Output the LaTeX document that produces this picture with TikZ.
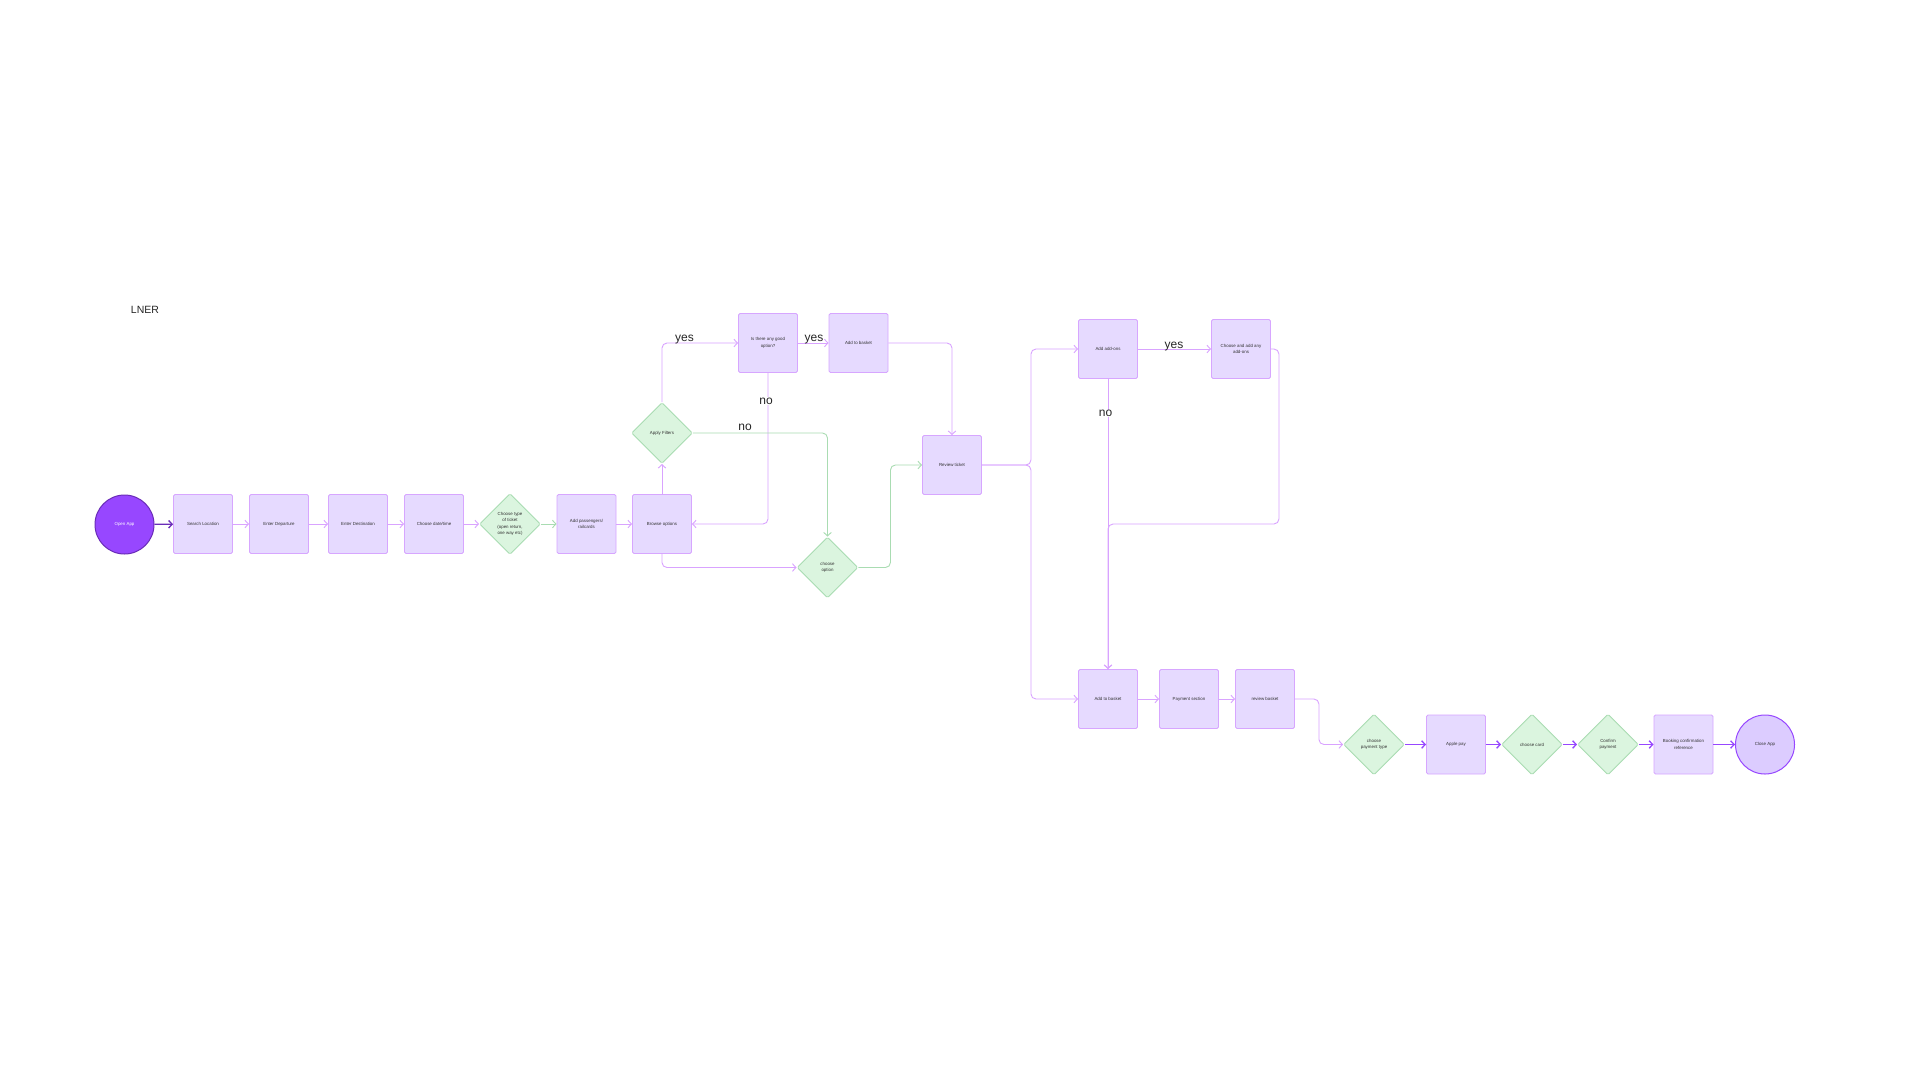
\documentclass[tikz,border=0pt]{standalone}
\usepackage{fontspec}
\setmainfont{Liberation Sans}
\usetikzlibrary{shapes.geometric,arrows.meta}

\definecolor{boxfill}{HTML}{E6DAFF}
\definecolor{boxline}{HTML}{D7A6FF}
\definecolor{decfill}{HTML}{DBF5DF}
\definecolor{decline}{HTML}{A9DCB2}
\definecolor{plink}{HTML}{D9A3FF}
\definecolor{glink}{HTML}{A9DCB2}
\definecolor{startfill}{HTML}{9747FF}
\definecolor{startline}{HTML}{6A2DB8}
\definecolor{endfill}{HTML}{DCCCFF}
\definecolor{darklink}{HTML}{9747FF}
\definecolor{txt}{HTML}{333333}

\newcommand{\boxfont}{\fontsize{4.4}{6.3}\selectfont}

\begin{document}
\begin{tikzpicture}[x=1pt,y=-1pt,
    >={Straight Barb[length=3.5pt,width=7.5pt]},
    stepbox/.style={draw=boxline, fill=boxfill, line width=0.9pt, rounded corners=1.5pt,
      minimum width=59pt, minimum height=59pt, inner sep=1pt, align=center,
      font=\boxfont, text=txt},
    decision/.style={diamond, aspect=1, draw=decline, fill=decfill, line width=0.9pt,
      rounded corners=1.5pt, minimum width=61pt, minimum height=61pt, inner sep=0pt,
      align=center, font=\boxfont, text=txt},
    startnode/.style={circle, draw=startline, fill=startfill, line width=1pt,
      minimum size=59pt, inner sep=0pt, font=\boxfont, text=white},
    endnode/.style={circle, draw=darklink, fill=endfill, line width=1pt,
      minimum size=59pt, inner sep=0pt, font=\boxfont, text=txt},
    pline/.style={->, draw=plink, line width=0.9pt, rounded corners=5pt},
    gline/.style={->, draw=glink, line width=0.9pt, rounded corners=5pt},
    dline/.style={->, draw=darklink, line width=1.3pt},
    lbl/.style={anchor=base, font=\fontsize{12}{14}\selectfont, text=black!85, inner sep=0.5pt}]

\fill[white] (0,0) rectangle (1920,1080);
\useasboundingbox (0,0) rectangle (1920,1080);

\node[anchor=base, font=\fontsize{10.5}{12}\selectfont, text=black!85] (title) at (145,313.5) {LNER};

% first row
\node[startnode] (open) at (124.5,524.5) {Open App};
\node[stepbox] (search) at (203,524) {Search Location};
\node[stepbox] (dep) at (279,524) {Enter Departure};
\node[stepbox] (dest) at (358,524) {Enter Destination};
\node[stepbox] (date) at (434,524) {Choose date/time};
\node[decision] (type) at (510,524) {Choose type\\of ticket\\(open return,\\one way etc)};
\node[stepbox] (pass) at (586.5,524) {Add passengers/\\railcards};
\node[stepbox] (browse) at (662,524) {Browse options};

% filters and options
\node[decision] (filter) at (662,433) {Apply Filters};
\node[stepbox] (good) at (768,343) {Is there any good\\option?};
\node[stepbox] (basketA) at (858.5,343) {Add to basket};
\node[decision] (option) at (827.5,567.5) {choose\\option};
\node[stepbox] (review) at (952,465) {Review ticket};

% add-ons
\node[stepbox] (addons) at (1108,349) {Add add-ons};
\node[stepbox] (anyadd) at (1241,349) {Choose and add any\\add-ons};
\node[stepbox] (basketB) at (1108,699) {Add to basket};
\node[stepbox] (paysec) at (1189,699) {Payment section};
\node[stepbox] (reviewB) at (1265,699) {review basket};

% payment
\node[decision] (paytype) at (1374,744.5) {choose\\payment type};
\node[stepbox] (apple) at (1456,744.5) {Apple pay};
\node[decision] (card) at (1532,744.5) {choose card};
\node[decision] (confirm) at (1608,744.5) {Confirm\\payment};
\node[stepbox] (booking) at (1683.5,744.5) {Booking confirmation\\reference};
\node[endnode] (close) at (1765,744.5) {Close App};

% connectors
\draw[->, draw=startline, line width=1.3pt] (open) -- (search);
\draw[pline] (search) -- (dep);
\draw[pline] (dep) -- (dest);
\draw[pline] (dest) -- (date);
\draw[pline] (date) -- (type);
\draw[gline] (type) -- (pass);
\draw[pline] (pass) -- (browse);
\draw[pline] (browse) -- (filter);
\draw[pline] (filter.north) |- (good.west);
\draw[pline] (good) -- (basketA);
\draw[pline] (good.south) |- (browse.east);
\draw[gline] (filter.east) -| (option.north);
\draw[pline] (browse.south) |- (option.west);
\draw[gline] (option.east) -- ++(32,0) |- (review.west);
\draw[pline] (basketA.east) -| (review.north);
\draw[pline] (review.east) -- ++(49,0) |- (addons.west);
\draw[pline] (review.east) -- ++(49,0) |- (basketB.west);
\draw[pline] (addons) -- (anyadd);
\draw[pline] (addons) -- (basketB);
\draw[pline] (anyadd.east) -| ++(8,175) -| (basketB.north);
\draw[pline] (basketB) -- (paysec);
\draw[pline] (paysec) -- (reviewB);
\draw[pline] (reviewB.east) -- ++(24,0) |- (paytype.west);
\draw[dline] (paytype) -- (apple);
\draw[dline] (apple) -- (card);
\draw[dline] (card) -- (confirm);
\draw[dline] (confirm) -- (booking);
\draw[dline] (booking) -- (close);

% branch labels
\node[lbl] (yesA) at (684.5,341.5) {yes};
\node[lbl] (yesB) at (814,341.5) {yes};
\node[lbl, fill=white] (noA) at (766,404) {no};
\node[lbl] (noB) at (745,430.5) {no};
\node[lbl] (yesC) at (1174,348) {yes};
\node[lbl, fill=white] (noC) at (1105.5,416.5) {no};
\end{tikzpicture}
\end{document}
